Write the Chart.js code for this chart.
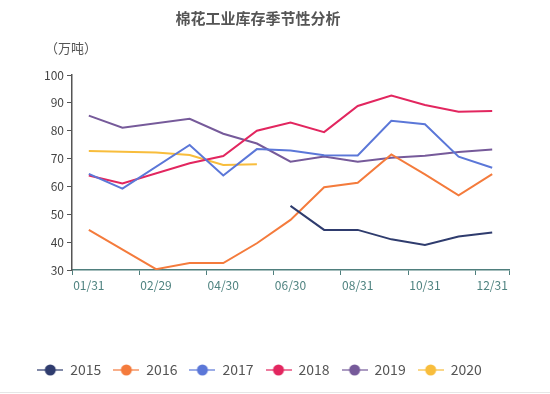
<!DOCTYPE html>
<html>
<head>
<meta charset="utf-8">
<script src="https://cdn.jsdelivr.net/npm/chart.js@4/dist/chart.umd.min.js"></script>
<style>
  html, body { margin: 0; padding: 0; background: #fff; }
  #wrap { position: relative; width: 550px; height: 394px; }
  #line { position: absolute; left: 0; right: 0; bottom: 1px; height: 1px; background: #e6e6e6; }
</style>
</head>
<body>
<div id="wrap">
  <canvas id="main-chart" width="550" height="394"></canvas>
  <div id="line"></div>
</div>
<script>
// month-end dates; 02/28 for normal years, 02/29 for leap years
let dates = ['01/31', '02/28', '02/29', '03/31', '04/30', '05/31', '06/30', '07/31', '08/31', '09/30', '10/31', '11/30', '12/31'];

let y2015 = [null, null, null, null, null, null, 53, 44.4, 44.4, 41, 39, 42, 43.5];
let y2016 = [44.4, null, 30.3, 32.5, 32.5, 39.6, 48, 59.7, 61.3, 71.5, 64.3, 56.8, 64.4];
let y2017 = [64.5, 59.2, null, 74.9, 63.9, 73.4, 72.9, 71.2, 71.1, 83.6, 82.3, 70.7, 66.7];
let y2018 = [63.9, 61.1, null, 68.3, 70.9, 80, 82.9, 79.5, 88.9, 92.6, 89.2, 86.8, 87.1];
let y2019 = [85.4, 81.1, null, 84.3, 78.9, 75.4, 68.9, 70.7, 68.9, 70.3, 71, 72.4, 73.3];
let y2020 = [72.7, null, 72.2, 71.3, 67.7, 68, null, null, null, null, null, null, null];

let years = ['2015', '2016', '2017', '2018', '2019', '2020'];
let colors = ['#2f3c6e', '#f47b3c', '#5b77d8', '#e2265f', '#765a9a', '#f8bd3c'];

let font = '"Noto Sans CJK SC", "Noto Sans", sans-serif';

function legendIcon(color) {
    let c = document.createElement('canvas');
    c.width = 26;
    c.height = 14;
    let g = c.getContext('2d');
    g.strokeStyle = color;
    g.globalAlpha = 0.8;
    g.lineWidth = 1.5;
    g.beginPath();
    g.moveTo(0, 7);
    g.lineTo(26, 7);
    g.stroke();
    g.globalAlpha = 1;
    g.fillStyle = color;
    g.beginPath();
    g.arc(13, 7, 5.5, 0, Math.PI * 2);
    g.fill();
    return c;
}

// title and unit text
let titlePlugin = {
    id: 'titles',
    afterDraw(chart) {
        let c = chart.ctx;
        c.save();
        c.fillStyle = '#555';
        c.textBaseline = 'middle';
        c.textAlign = 'center';
        c.font = 'bold 15px ' + font;
        c.fillText('棉花工业库存季节性分析', 258, 18);
        c.textAlign = 'left';
        c.font = '13px ' + font;
        c.fillText('（万吨）', 45, 48);
        c.restore();
    }
};

let series = [y2015, y2016, y2017, y2018, y2019, y2020];
let data = {
    labels: dates,
    datasets: years.map(function (yr, i) {
        return {
            label: yr,
            data: series[i],
            borderColor: colors[i],
            backgroundColor: colors[i],
            borderWidth: 2,
            pointRadius: 0,
            tension: 0,
            spanGaps: true
        };
    })
};

let ctx = document.getElementById('main-chart');
let myChart = new Chart(ctx, {
    type: 'line',
    data: data,
    plugins: [titlePlugin],
    options: {
        responsive: false,
        animation: false,
        layout: { padding: { top: 75, right: 41, bottom: 7, left: 10 } },
        plugins: {
            title: { display: false },
            tooltip: { enabled: false },
            legend: {
                position: 'bottom',
                labels: {
                    usePointStyle: true,
                    pointStyleWidth: 26,
                    padding: 12,
                    color: '#555',
                    font: { family: font, size: 14 },
                    generateLabels(chart) {
                        let items = Chart.defaults.plugins.legend.labels.generateLabels(chart);
                        items.forEach(function (it, i) {
                            it.pointStyle = legendIcon(colors[i]);
                        });
                        return items;
                    }
                }
            }
        },
        scales: {
            x: {
                type: 'category',
                offset: true,
                afterFit(scale) { scale.height = 81; },
                grid: {
                    offset: true,
                    drawOnChartArea: false,
                    drawTicks: true,
                    tickLength: 5,
                    color(c) {
                        return (c.index === undefined || c.index % 2 === 0) ? '#4f7f7d' : 'rgba(0,0,0,0)';
                    }
                },
                border: { color: '#4f7f7d', width: 1.5 },
                ticks: {
                    autoSkip: false,
                    maxRotation: 0,
                    padding: 3,
                    color: '#4f8380',
                    font: { family: font, size: 12 },
                    callback(v, i) { return i % 2 === 0 ? dates[i] : ''; }
                }
            },
            y: {
                min: 30,
                max: 100,
                afterFit(scale) { scale.width = 62; },
                grid: {
                    drawOnChartArea: false,
                    drawTicks: true,
                    tickLength: 5,
                    color: '#555'
                },
                border: { color: '#555', width: 1.5 },
                ticks: {
                    stepSize: 10,
                    padding: 3,
                    color: '#444',
                    font: { family: font, size: 12 }
                }
            }
        }
    }
});
</script>
</body>
</html>
